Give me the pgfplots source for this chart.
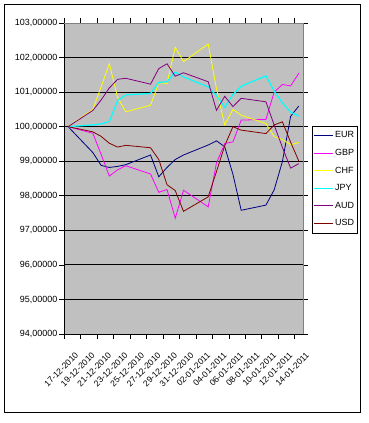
\documentclass[border=0pt]{standalone}
\usepackage{fontspec}
\setmainfont{Liberation Sans}
\usepackage{pgfplots}
\pgfplotsset{compat=1.18}
\usepackage{pgfplotstable}
\definecolor{plotbg}{RGB}{192,192,192}
\definecolor{cEUR}{RGB}{0,0,128}
\definecolor{cGBP}{RGB}{255,0,255}
\definecolor{cCHF}{RGB}{255,255,0}
\definecolor{cJPY}{RGB}{0,255,255}
\definecolor{cAUD}{RGB}{128,0,128}
\definecolor{cUSD}{RGB}{128,0,0}
\definecolor{bordergray}{RGB}{128,128,128}
\pgfplotstableread{
x  EUR    GBP    CHF    JPY    AUD    USD
0  100.00 100.00 100.00 100.00 100.00 100.00
3  99.25  99.81  100.50 100.05 100.47 99.85
4  98.88  99.20  101.15 100.08 100.77 99.72
5  98.82  98.57  101.82 100.15 101.12 99.52
6  98.85  98.75  100.85 100.75 101.37 99.41
7  98.90  98.87  100.43 100.92 101.40 99.46
10 99.18  98.63  100.62 100.96 101.23 99.39
11 98.55  98.10  101.27 101.28 101.68 99.05
12 98.82  98.18  101.25 101.30 101.82 98.32
13 99.05  97.35  102.30 101.58 101.46 98.15
14 99.18  98.16  101.88 101.44 101.56 97.55
17 99.47  97.68  102.39 101.15 101.30 97.97
18 99.59  98.95  101.10 100.90 100.47 98.70
19 99.42  99.51  100.05 100.56 100.88 99.45
20 98.62  99.56  100.50 100.93 100.58 100.00
21 97.58  100.19 100.33 101.17 100.82 99.90
24 97.73  100.21 100.09 101.47 100.72 99.80
25 98.17  101.00 99.71  101.03 100.05 100.05
26 98.99  101.22 99.63  100.69 99.40  100.14
27 100.30 101.18 99.48  100.42 98.80  99.55
28 100.60 101.55 99.54  100.31 98.93  99.00
}\fx
\begin{document}
\begin{tikzpicture}
\useasboundingbox (0,0) rectangle (369bp,423bp);
\fill[white] (0,0) rectangle (369bp,423bp);
\draw[black, line width=0.9bp] (4bp,11bp) rectangle (360bp,419bp);
\begin{axis}[
  at={(64bp,89bp)}, anchor=south west,
  scale only axis, width=239bp, height=311bp,
  xmin=-0.5, xmax=28.5, ymin=94, ymax=103,
  axis background/.style={fill=plotbg},
  axis line style={black, line width=0.8bp},
  ytick={94,...,103},
  xtick={-0.5,1.5,...,27.5},
  xticklabels={17-12-2010,19-12-2010,21-12-2010,23-12-2010,25-12-2010,27-12-2010,29-12-2010,31-12-2010,02-01-2011,04-01-2011,06-01-2011,08-01-2011,10-01-2011,12-01-2011,14-01-2011},
  tick align=outside, major tick length=5bp,
  tick style={black, line width=0.6bp},
  ymajorgrids, major grid style={black, line width=0.8bp},
  xticklabel style={rotate=45, anchor=north east, font=\fontsize{8.6}{10}\selectfont, yshift=-16bp, xshift=-1bp, inner sep=0.5bp},
  yticklabel style={font=\fontsize{9}{10}\selectfont, inner sep=1.5bp},
  /pgf/number format/fixed, /pgf/number format/fixed zerofill,
  /pgf/number format/precision=5, /pgf/number format/use comma,
  /pgf/number format/1000 sep={}, /pgf/number format/assume math mode=true,
  legend style={at={(1.0377,0.669)}, anchor=north west, draw=black, fill=white,
    line width=0.6bp, font=\fontsize{9}{10}\selectfont, inner xsep=1bp, inner ysep=3.5bp,
    row sep=5.9bp, cells={anchor=west}},
  legend image code/.code={\draw[#1, line width=0.9bp] (0bp,0bp) -- (19bp,0bp);},
  every axis plot/.append style={line width=0.8bp},
  clip=false,
]
\addplot[cEUR, no marks] table[x=x, y=EUR] {\fx};
\addlegendentry{EUR}
\addplot[cGBP, no marks] table[x=x, y=GBP] {\fx};
\addlegendentry{GBP}
\addplot[cCHF, no marks] table[x=x, y=CHF] {\fx};
\addlegendentry{CHF}
\addplot[cJPY, no marks, line width=1.2bp] table[x=x, y=JPY] {\fx};
\addlegendentry{JPY}
\addplot[cAUD, no marks] table[x=x, y=AUD] {\fx};
\addlegendentry{AUD}
\addplot[cUSD, no marks] table[x=x, y=USD] {\fx};
\addlegendentry{USD}
\draw[bordergray, line width=0.8bp] (rel axis cs:0,1) -- (rel axis cs:1,1) -- (rel axis cs:1,0);
\end{axis}
\end{tikzpicture}
\end{document}
